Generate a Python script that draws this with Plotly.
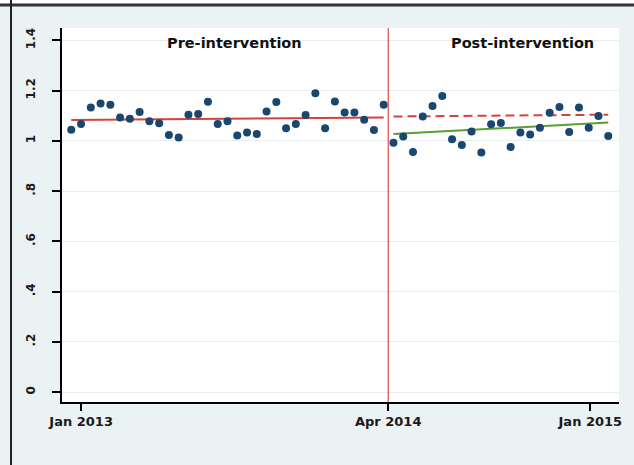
import plotly.graph_objects as go

# ---- data ----
period = list(range(56))
ratio = [1.044, 1.067, 1.133, 1.149, 1.144, 1.093, 1.088, 1.115, 1.078, 1.070,
         1.023, 1.013, 1.104, 1.107, 1.156, 1.067, 1.078, 1.021, 1.033, 1.027,
         1.117, 1.155, 1.050, 1.067, 1.103, 1.189, 1.050, 1.157, 1.113, 1.113,
         1.084, 1.043, 1.144,
         0.992, 1.017, 0.956, 1.097, 1.139, 1.178, 1.006, 0.984, 1.037, 0.954,
         1.066, 1.071, 0.976, 1.033, 1.025, 1.052, 1.112, 1.135, 1.035, 1.133,
         1.052, 1.099, 1.019]

pre_trend_t = [0, 32]
pre_trend = [1.083, 1.093]
post_trend_t = [33, 55]
post_trend = [1.027, 1.073]
counterfactual = [1.097, 1.104]

intervention_t = 32.46
x_tick_pos = [1.01, 32.46, 53.16]
x_tick_text = ["Jan 2013", "Apr 2014", "Jan 2015"]
y_tick_pos = [0, 0.2, 0.4, 0.6, 0.8, 1.0, 1.2, 1.4]
y_tick_text = ["0", ".2", ".4", ".6", ".8", "1", "1.2", "1.4"]
panel_labels = ["Pre-intervention", "Post-intervention"]
panel_label_t = [16.73, 46.2]

W, H = 634, 465
ML, MR, MT, MB = 62, 15, 28, 63

fig = go.Figure()
fig.add_trace(go.Scatter(x=pre_trend_t, y=pre_trend, mode="lines",
                         line=dict(color="#d6403f", width=2), hoverinfo="skip"))
fig.add_trace(go.Scatter(x=post_trend_t, y=counterfactual, mode="lines",
                         line=dict(color="#d6403f", width=2, dash="9px,5px"), hoverinfo="skip"))
fig.add_trace(go.Scatter(x=post_trend_t, y=post_trend, mode="lines",
                         line=dict(color="#5a9e35", width=2), hoverinfo="skip"))
fig.add_trace(go.Scatter(x=period, y=ratio, mode="markers",
                         marker=dict(color="#1a476f", size=8)))

fig.add_vline(x=intervention_t, line=dict(color="#d62728", width=1))

for txt, t in zip(panel_labels, panel_label_t):
    fig.add_annotation(x=t, y=1.388, text=txt, showarrow=False,
                       font=dict(family="DejaVu Sans", size=14.5, color="#111111", weight="bold"))

pw = W - ML - MR
ph = H - MT - MB
def px_x(p):
    return (p - ML) / pw
def px_y(p):
    return (H - MB - p) / ph

# frame artefacts of the reference picture
fig.add_shape(type="rect", xref="paper", yref="paper",
              x0=px_x(0), x1=px_x(W), y0=px_y(3.5), y1=px_y(0),
              fillcolor="white", line=dict(width=0), layer="below")
fig.add_shape(type="line", xref="paper", yref="paper",
              x0=px_x(0), x1=px_x(W), y0=px_y(5), y1=px_y(5),
              line=dict(color="#333333", width=3))
fig.add_shape(type="line", xref="paper", yref="paper",
              x0=px_x(11), x1=px_x(11), y0=px_y(0), y1=px_y(H),
              line=dict(color="#222222", width=2))

fig.update_layout(
    width=W, height=H,
    margin=dict(l=ML, r=MR, t=MT, b=MB),
    paper_bgcolor="#eaf2f3", plot_bgcolor="white",
    showlegend=False,
    xaxis=dict(range=[-0.95, 56.1], tickvals=x_tick_pos, ticktext=x_tick_text,
               ticks="outside", ticklen=7, tickwidth=1.5, tickcolor="black",
               showline=True, linecolor="black", linewidth=1.5,
               showgrid=False, zeroline=False,
               tickfont=dict(family="DejaVu Sans", size=13, color="#1a1a1a", weight="bold")),
    yaxis=dict(range=[-0.039, 1.449], tickvals=y_tick_pos, ticktext=y_tick_text,
               tickangle=-90, ticks="outside", ticklen=8, tickwidth=1.5, tickcolor="black",
               showline=True, linecolor="black", linewidth=1.5,
               showgrid=True, gridcolor="#e6eeef", gridwidth=1, zeroline=False,
               ticklabelstandoff=12,
               tickfont=dict(family="DejaVu Sans", size=12, color="#1a1a1a", weight="bold")),
)

fig.write_html("out.html", config={"displayModeBar": False},
               post_script="document.body.style.margin='0';")
